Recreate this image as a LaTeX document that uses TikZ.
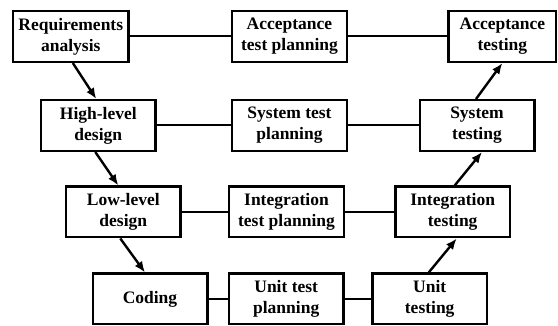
\documentclass[tikz,border=0pt]{standalone}
\usepackage{fontspec}
\setmainfont{Liberation Serif}
\usetikzlibrary{arrows.meta}
\tikzset{
  box/.style={draw, line width=2.4pt, minimum width=114.6pt, minimum height=50.6pt,
    inner sep=0pt, align=center, font=\bfseries\fontsize{17.5}{21}\selectfont},
  link/.style={line width=2pt},
  flow/.style={line width=2.4pt, -{Latex[length=11pt,width=9pt]}}
}

\begin{document}
\begin{tikzpicture}[x=1pt,y=-1pt]
  \useasboundingbox (0,0) rectangle (558,326);
  \node[box, minimum width=115.6pt] (RA) at (70.8,36.5) {Requirements\\analysis};
  \node[box] (HD) at (98.3,125.5) {High-level\\design};
  \node[box] (LD) at (123.3,212) {Low-level\\design};
  \node[box] (CO) at (150,299) {Coding};
  \node[box] (ATP) at (289.5,36.5) {Acceptance\\test planning};
  \node[box] (STP) at (289.5,125.5) {System test\\planning};
  \node[box] (ITP) at (286.5,212) {Integration\\test planning};
  \node[box] (UTP) at (286.2,299) {Unit test\\planning};
  \node[box, minimum width=107.6pt] (AT) at (502.4,36.5) {Acceptance\\testing};
  \node[box] (ST) at (477,125.5) {System\\testing};
  \node[box] (IT) at (452.7,212) {Integration\\testing};
  \node[box] (UT) at (429.7,299) {Unit\\testing};
  \draw[link] (RA) -- (ATP) -- (AT);
  \draw[link] (HD) -- (STP) -- (ST);
  \draw[link] (LD) -- (ITP) -- (IT);
  \draw[link] (CO) -- (UTP) -- (UT);
  \draw[flow] ([xshift=2pt]RA.south) -- ([xshift=-2pt]HD.north);
  \draw[flow] ([xshift=-3pt]HD.south) -- ([xshift=-5pt]LD.north);
  \draw[flow] ([xshift=-3pt]LD.south) -- ([xshift=-5pt]CO.north);
  \draw[flow] ([xshift=-1pt]UT.north) -- ([xshift=4pt]IT.south);
  \draw[flow] ([xshift=2pt]IT.north) -- ([xshift=5pt]ST.south);
  \draw[flow] ([xshift=-1pt]ST.north) -- (AT.south);
\end{tikzpicture}
\end{document}
